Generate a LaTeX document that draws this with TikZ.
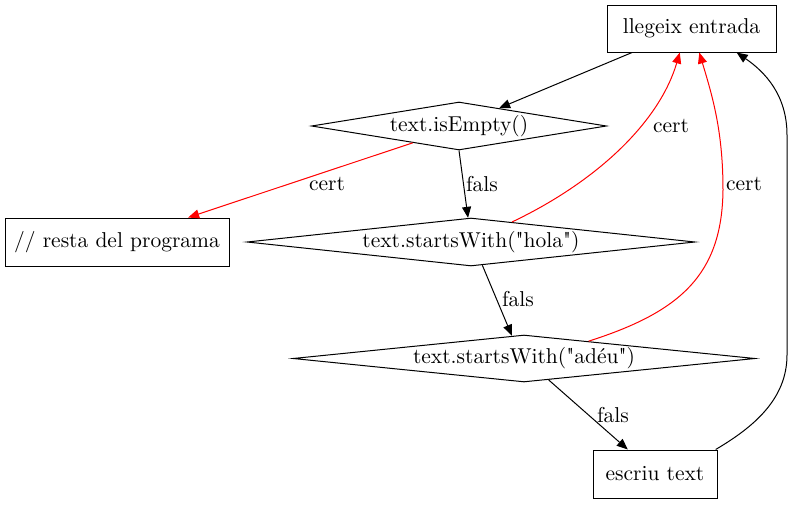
\documentclass[tikz,border=0pt]{standalone}
\usepackage{fontspec}
\setmainfont{lmroman10-regular.otf}[Ligatures=TeXOff]
\usetikzlibrary{shapes.geometric,arrows.meta}
\begin{document}
\begin{tikzpicture}[x=1pt,y=-1pt,
  every node/.style={font=\fontsize{21.5}{25}\selectfont},
  box/.style={draw, line width=1pt, rectangle, inner sep=0pt},
  dec/.style={draw, line width=1pt, diamond, inner sep=0pt},
  lbl/.style={inner sep=0pt},
  conn/.style={line width=1pt, -{Triangle[length=11pt,width=9pt]}},
  redc/.style={conn, red}]
\useasboundingbox (0,0) rectangle (793,504);
\node[box, minimum width=169pt, minimum height=47pt] (ll) at (691.5,28.5) {llegeix entrada};
\node[dec, aspect=6, minimum width=295pt, minimum height=48pt] (ie) at (459,126) {text.isEmpty()};
\node[box, minimum width=224pt, minimum height=48pt] (rp) at (117,242) {// resta del programa};
\node[dec, aspect=9.5, minimum width=448pt, minimum height=48pt] (ho) at (471,242) {text.startsWith("hola")};
\node[dec, aspect=9.5, minimum width=462pt, minimum height=47pt] (ad) at (524,358.5) {text.startsWith("adéu")};
\node[box, minimum width=124pt, minimum height=48pt] (et) at (655,474) {escriu text};

\draw[conn] (ll.202) -- (ie.24);
\draw[redc] (ie.200) -- (rp.19);
\draw[conn] (ie.south) -- (ho.97);
\draw[redc] (ho.26) .. controls (600,180) and (660,120) .. (ll.244);
\draw[conn] (ho.-64) -- (ad.118);
\draw[redc] (ad.15) .. controls (680,312) and (722,275) .. (723,190) .. controls (723,130) and (712,95) .. (ll.-72);
\draw[conn] (ad.-41) -- (et.138);
\draw[conn] (et.22.5) .. controls (752,428) and (787,400) .. (787,355) -- (787,135) .. controls (787,95) and (765,72) .. (ll.-28);

\node[lbl] (c1) at (327,184) {cert};
\node[lbl] (f1) at (482,184) {fals};
\node[lbl] (c2) at (671,126) {cert};
\node[lbl] (f2) at (518,299) {fals};
\node[lbl] (c3) at (744,184) {cert};
\node[lbl] (f3) at (613,415) {fals};
\end{tikzpicture}
\end{document}
